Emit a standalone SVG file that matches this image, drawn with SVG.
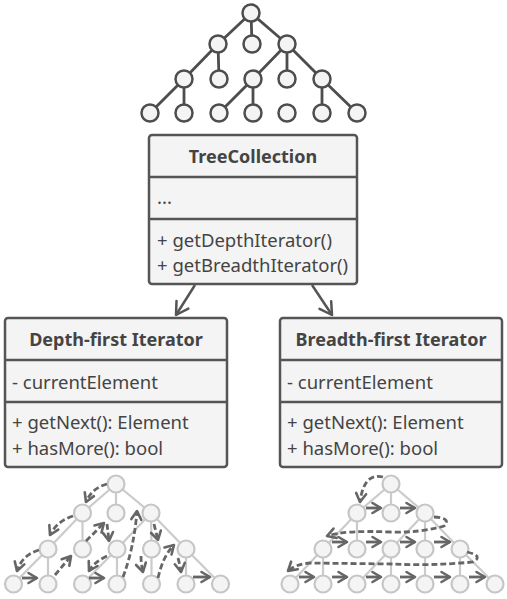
<svg xmlns="http://www.w3.org/2000/svg" width="507" height="599" viewBox="0 0 507 599">
<style>
.box{fill:#f4f4f4;stroke:#555;stroke-width:2.5}
.div{stroke:#555;stroke-width:2.5}
.t{font-family:"Noto Sans","Open Sans",sans-serif;font-size:18.5px;fill:#444}
.b{font-family:"Noto Sans","Open Sans",sans-serif;font-size:18px;font-weight:bold;fill:#444}
.te{stroke:#4d4d4d;stroke-width:2.8;fill:none}
.tn{fill:#f4f4f4;stroke:#4d4d4d;stroke-width:2.5}
.be{stroke:#cbcbcb;stroke-width:2.2;fill:none}
.bn{fill:#f4f4f4;stroke:#c6c6c6;stroke-width:2.2}
.da{fill:none;stroke:#666;stroke-width:2.8;stroke-dasharray:6 3;marker-end:url(#ah)}
.sa{fill:none;stroke:#666;stroke-width:2.8;marker-end:url(#ah)}
.ma{fill:none;stroke:#555;stroke-width:2.5;marker-end:url(#big)}
</style>
<defs>
<marker id="ah" viewBox="-12 -8 14 16" refX="0" refY="0" markerWidth="14" markerHeight="16" markerUnits="userSpaceOnUse" orient="auto">
<path d="M-8.5,-5 L0,0 L-8.5,5" fill="none" stroke="#666" stroke-width="2.6" stroke-linecap="round" stroke-linejoin="round"/>
</marker>
<marker id="big" viewBox="-16 -10 18 20" refX="0" refY="0" markerWidth="18" markerHeight="20" markerUnits="userSpaceOnUse" orient="auto">
<path d="M-12,-7 L0,0 L-12,7" fill="none" stroke="#555" stroke-width="2.5" stroke-linecap="round" stroke-linejoin="round"/>
</marker>
</defs>

<g id="top-tree">
<g class="te">
<line x1="251" y1="13" x2="218" y2="44"/><line x1="251" y1="13" x2="252" y2="44"/><line x1="251" y1="13" x2="287" y2="44"/>
<line x1="218" y1="44" x2="184" y2="79"/><line x1="218" y1="44" x2="219" y2="79"/>
<line x1="287" y1="44" x2="253" y2="79"/><line x1="287" y1="44" x2="287" y2="79"/><line x1="287" y1="44" x2="322" y2="79"/>
<line x1="184" y1="79" x2="150" y2="113"/><line x1="184" y1="79" x2="184" y2="113"/>
<line x1="253" y1="79" x2="219" y2="113"/><line x1="253" y1="79" x2="253" y2="113"/>
<line x1="322" y1="79" x2="322" y2="113"/><line x1="322" y1="79" x2="357" y2="113"/>
</g>
<g class="tn">
<circle cx="251" cy="13" r="8.5"/>
<circle cx="218" cy="44" r="8.5"/><circle cx="252" cy="44" r="8.5"/><circle cx="287" cy="44" r="8.5"/>
<circle cx="184" cy="79" r="8.5"/><circle cx="219" cy="79" r="8.5"/><circle cx="253" cy="79" r="8.5"/><circle cx="287" cy="79" r="8.5"/><circle cx="322" cy="79" r="8.5"/>
<circle cx="150" cy="113" r="8.5"/><circle cx="184" cy="113" r="8.5"/><circle cx="219" cy="113" r="8.5"/><circle cx="253" cy="113" r="8.5"/><circle cx="287" cy="113" r="8.5"/><circle cx="322" cy="113" r="8.5"/><circle cx="357" cy="113" r="8.5"/>
</g>
</g>

<g id="TreeCollection">
<rect class="box" x="149" y="135" width="208" height="149" rx="3"/>
<line class="div" x1="149" y1="177" x2="357" y2="177"/>
<line class="div" x1="149" y1="219" x2="357" y2="219"/>
<text class="b" x="253" y="163" text-anchor="middle">TreeCollection</text>
<text class="t" x="157" y="204">...</text>
<text class="t" x="157" y="247">+ getDepthIterator()</text>
<text class="t" x="157" y="272">+ getBreadthIterator()</text>
</g>

<g id="DepthFirstIterator">
<rect class="box" x="5" y="318" width="222" height="149" rx="3"/>
<line class="div" x1="5" y1="360" x2="227" y2="360"/>
<line class="div" x1="5" y1="402" x2="227" y2="402"/>
<text class="b" x="116" y="346" text-anchor="middle">Depth-first Iterator</text>
<text class="t" x="12" y="389">- currentElement</text>
<text class="t" x="12" y="429">+ getNext(): Element</text>
<text class="t" x="12" y="455">+ hasMore(): bool</text>
</g>

<g id="BreadthFirstIterator">
<rect class="box" x="280" y="318" width="222" height="149" rx="3"/>
<line class="div" x1="280" y1="360" x2="502" y2="360"/>
<line class="div" x1="280" y1="402" x2="502" y2="402"/>
<text class="b" x="391" y="346" text-anchor="middle">Breadth-first Iterator</text>
<text class="t" x="287" y="389">- currentElement</text>
<text class="t" x="287" y="429">+ getNext(): Element</text>
<text class="t" x="287" y="455">+ hasMore(): bool</text>
</g>

<g id="connectors">
<line class="ma" x1="195" y1="285" x2="176" y2="315"/>
<line class="ma" x1="312" y1="285" x2="332" y2="315"/>
</g>

<g id="depth-tree">
<g class="be">
<line x1="116" y1="484" x2="82.5" y2="513"/><line x1="116" y1="484" x2="116" y2="513"/><line x1="116" y1="484" x2="151" y2="513"/>
<line x1="82.5" y1="513" x2="48" y2="549"/><line x1="82.5" y1="513" x2="82.5" y2="549"/>
<line x1="151" y1="513" x2="117" y2="549"/><line x1="151" y1="513" x2="151.5" y2="549"/><line x1="151" y1="513" x2="186" y2="549"/>
<line x1="48" y1="549" x2="13.5" y2="584"/><line x1="48" y1="549" x2="48" y2="584"/>
<line x1="117" y1="549" x2="82.5" y2="584"/><line x1="117" y1="549" x2="117" y2="584"/>
<line x1="151.5" y1="549" x2="151.5" y2="584"/>
<line x1="186" y1="549" x2="186" y2="584"/><line x1="186" y1="549" x2="220.5" y2="584"/>
</g>
<g class="bn">
<circle cx="116" cy="484" r="8.5"/>
<circle cx="82.5" cy="513" r="8.5"/><circle cx="116" cy="513" r="8.5"/><circle cx="151" cy="513" r="8.5"/>
<circle cx="48" cy="549" r="8.5"/><circle cx="82.5" cy="549" r="8.5"/><circle cx="117" cy="549" r="8.5"/><circle cx="151.5" cy="549" r="8.5"/><circle cx="186" cy="549" r="8.5"/>
<circle cx="13.5" cy="584" r="8.5"/><circle cx="48" cy="584" r="8.5"/><circle cx="82.5" cy="584" r="8.5"/><circle cx="117" cy="584" r="8.5"/><circle cx="151.5" cy="584" r="8.5"/><circle cx="186" cy="584" r="8.5"/><circle cx="220.5" cy="584" r="8.5"/>
</g>
<g>
<path class="da" d="M107,484 Q92,488 86,502"/>
<path class="da" d="M73,516 Q57,521 50,535"/>
<path class="da" d="M39,550 Q22,555 17,571"/>
<path class="sa" d="M22,578 L37,578"/>
<path class="da" d="M55,575 L71,556"/>
<path class="da" d="M86,541 L104,523"/>
<path class="da" d="M107,524 Q108,532 109,541"/>
<path class="da" d="M107,556 Q94,562 89,571"/>
<path class="sa" d="M89,578 L104,578"/>
<path class="da" d="M123,577 Q134,548 137,511"/>
<path class="da" d="M154,524 L158,540"/>
<path class="da" d="M141,556 Q141,564 143,572"/>
<path class="da" d="M158,578 Q163,556 174,545"/>
<path class="da" d="M178,558 Q180,565 181,572"/>
<path class="sa" d="M193,577 L210,577"/>
</g>
</g>

<g id="breadth-tree">
<g class="be">
<line x1="391" y1="484" x2="357" y2="513"/><line x1="391" y1="484" x2="391" y2="513"/><line x1="391" y1="484" x2="425" y2="513"/>
<line x1="357" y1="513" x2="323" y2="549"/><line x1="357" y1="513" x2="357" y2="549"/>
<line x1="425" y1="513" x2="391" y2="549"/><line x1="425" y1="513" x2="425" y2="549"/><line x1="425" y1="513" x2="460" y2="549"/>
<line x1="323" y1="549" x2="290" y2="584"/><line x1="323" y1="549" x2="323" y2="584"/>
<line x1="391" y1="549" x2="357" y2="584"/><line x1="391" y1="549" x2="391" y2="584"/>
<line x1="425" y1="549" x2="425" y2="584"/>
<line x1="460" y1="549" x2="460" y2="584"/><line x1="460" y1="549" x2="495" y2="584"/>
</g>
<g class="bn">
<circle cx="391" cy="484" r="8.5"/>
<circle cx="357" cy="513" r="8.5"/><circle cx="391" cy="513" r="8.5"/><circle cx="425" cy="513" r="8.5"/>
<circle cx="323" cy="549" r="8.5"/><circle cx="357" cy="549" r="8.5"/><circle cx="391" cy="549" r="8.5"/><circle cx="425" cy="549" r="8.5"/><circle cx="460" cy="549" r="8.5"/>
<circle cx="290" cy="584" r="8.5"/><circle cx="323" cy="584" r="8.5"/><circle cx="357" cy="584" r="8.5"/><circle cx="391" cy="584" r="8.5"/><circle cx="425" cy="584" r="8.5"/><circle cx="460" cy="584" r="8.5"/><circle cx="495" cy="584" r="8.5"/>
</g>
<g>
<path class="da" d="M383,477 Q364,472 360,502"/>
<path class="sa" d="M366,508 L381,508"/>
<path class="sa" d="M400,508 L415,508"/>
<path class="da" d="M434,517 Q452,518 444,526 Q420,533 390,532 Q345,530 327,536"/>
<path class="sa" d="M332,542 L347,542"/>
<path class="sa" d="M366,542 L381,542"/>
<path class="sa" d="M400,542 L415,542"/>
<path class="sa" d="M434,542 L450,542"/>
<path class="da" d="M467,552 Q484,556 473,562 Q430,566 392,564 L310,563 Q296,564 288,571"/>
<path class="sa" d="M299,577 L314,577"/>
<path class="sa" d="M332,577 L347,577"/>
<path class="sa" d="M366,577 L381,577"/>
<path class="sa" d="M400,577 L415,577"/>
<path class="sa" d="M434,577 L450,577"/>
<path class="sa" d="M469,577 L485,577"/>
</g>
</g>
</svg>
